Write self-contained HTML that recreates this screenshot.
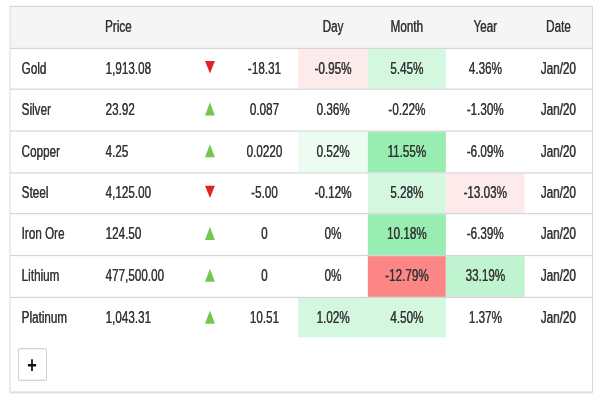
<!DOCTYPE html><html lang="en"><head><meta charset="utf-8"><title>Metals</title><style>
html,body{margin:0;padding:0;background:#fff;}
body{width:600px;height:400px;overflow:hidden;position:relative;}
.stage{position:absolute;left:0;top:0;width:718.56px;height:353.10px;transform:translate(0.0px,0.290px) scale(0.835,1.13200);transform-origin:0 0;font-family:"Liberation Sans",Arial,sans-serif;font-size:14px;line-height:20px;color:#333;-webkit-text-stroke:0.12px #333;text-shadow:0.35px 0 0 rgba(51,51,51,.75);}
svg.bg{position:absolute;left:0;top:0;display:block;}
.tbl{position:absolute;left:12.48px;top:5px;width:696.60px;}
.tr{display:flex;height:37px;}
.c{flex:none;box-sizing:border-box;text-align:center;white-space:nowrap;padding-top:8.10px;position:relative;}
.tr.h .c{padding-top:8.40px;}
.c.n{text-align:left;padding-left:13.39px;}
.c.p{text-align:left;padding-left:1.6px;}
.tr.h .c.p{padding-left:1px;}
.c svg{position:absolute;left:18.00px;top:11px;display:block;}
.btn{position:absolute;left:21px;top:307px;width:36px;height:30px;box-sizing:border-box;border:0;background:transparent;padding:0;margin:0;}
.btn svg{position:absolute;left:0;top:0;overflow:visible;display:block;}
</style></head><body><div class="stage">
<svg class="bg" width="718.56" height="353.10" viewBox="0 0 718.56 353.10" aria-hidden="true">
<rect x="11.98" y="5.35" width="697.60" height="36.65" fill="#f5f5f5"/>
<rect x="357.13" y="43" width="83.41" height="35.00" fill="#fdeaea"/>
<rect x="440.54" y="43" width="93.41" height="35.00" fill="#d4f7e0"/>
<rect x="357.13" y="116" width="83.41" height="36.00" fill="#ecfcf0"/>
<rect x="440.54" y="116" width="93.41" height="36.00" fill="#98edb1"/>
<rect x="440.54" y="153" width="93.41" height="35.00" fill="#d4f7e0"/>
<rect x="533.95" y="153" width="94.37" height="35.00" fill="#fdeaea"/>
<rect x="440.54" y="189" width="93.41" height="36.00" fill="#98edb1"/>
<rect x="440.54" y="226" width="93.41" height="36.00" fill="#fc8686"/>
<rect x="533.95" y="226" width="94.37" height="36.00" fill="#c0f3cf"/>
<rect x="357.13" y="263" width="83.41" height="34.84" fill="#d4f7e0"/>
<rect x="440.54" y="263" width="93.41" height="34.84" fill="#d4f7e0"/>
<rect x="11.98" y="42" width="697.60" height="1" fill="#d4d4d4"/>
<rect x="11.98" y="78" width="697.60" height="1" fill="#d4d4d4"/>
<rect x="11.98" y="115" width="697.60" height="1" fill="#d4d4d4"/>
<rect x="11.98" y="152" width="697.60" height="1" fill="#d4d4d4"/>
<rect x="11.98" y="188" width="697.60" height="1" fill="#d4d4d4"/>
<rect x="11.98" y="225" width="697.60" height="1" fill="#d4d4d4"/>
<rect x="11.98" y="262" width="697.60" height="1" fill="#d4d4d4"/>
<rect x="11.98" y="346.67" width="697.60" height="1" fill="#000" opacity="0.06"/>
<rect x="11.98" y="5.35" width="697.60" height="340.81" fill="none" stroke="#d4d4d4" stroke-width="1"/>
</svg>
<div class="tbl" role="table">
<div class="tr h" role="row"><div class="c" style="width:112.27px"></div><div class="c p" style="width:101.57px">Price</div><div class="c" style="width:49.85px"></div><div class="c" style="width:80.96px"></div><div class="c" style="width:83.41px">Day</div><div class="c" style="width:93.41px">Month</div><div class="c" style="width:94.37px">Year</div><div class="c" style="width:80.76px">Date</div></div>
<div class="tr" role="row" style="height:36px"><div class="c n" style="width:112.27px">Gold</div><div class="c p" style="width:101.57px">1,913.08</div><div class="c" style="width:49.85px"><svg width="15" height="14" viewBox="0 0 15 14"><polygon points="1.56,0.73 13.36,0.73 7.46,11.6" fill="#e02424"/></svg></div><div class="c" style="width:80.96px">-18.31</div><div class="c" style="width:83.41px">-0.95%</div><div class="c" style="width:93.41px">5.45%</div><div class="c" style="width:94.37px">4.36%</div><div class="c" style="width:80.76px">Jan/20</div></div>
<div class="tr" role="row" style="height:37px"><div class="c n" style="width:112.27px">Silver</div><div class="c p" style="width:101.57px">23.92</div><div class="c" style="width:49.85px"><svg width="15" height="14" viewBox="0 0 15 14"><polygon points="7.43,1.13 13.35,12.72 1.5,12.72" fill="#74c64c"/></svg></div><div class="c" style="width:80.96px">0.087</div><div class="c" style="width:83.41px">0.36%</div><div class="c" style="width:93.41px">-0.22%</div><div class="c" style="width:94.37px">-1.30%</div><div class="c" style="width:80.76px">Jan/20</div></div>
<div class="tr" role="row" style="height:37px"><div class="c n" style="width:112.27px">Copper</div><div class="c p" style="width:101.57px">4.25</div><div class="c" style="width:49.85px"><svg width="15" height="14" viewBox="0 0 15 14"><polygon points="7.43,1.13 13.35,12.72 1.5,12.72" fill="#74c64c"/></svg></div><div class="c" style="width:80.96px">0.0220</div><div class="c" style="width:83.41px">0.52%</div><div class="c" style="width:93.41px">11.55%</div><div class="c" style="width:94.37px">-6.09%</div><div class="c" style="width:80.76px">Jan/20</div></div>
<div class="tr" role="row" style="height:36px"><div class="c n" style="width:112.27px">Steel</div><div class="c p" style="width:101.57px">4,125.00</div><div class="c" style="width:49.85px"><svg width="15" height="14" viewBox="0 0 15 14"><polygon points="1.56,0.73 13.36,0.73 7.46,11.6" fill="#e02424"/></svg></div><div class="c" style="width:80.96px">-5.00</div><div class="c" style="width:83.41px">-0.12%</div><div class="c" style="width:93.41px">5.28%</div><div class="c" style="width:94.37px">-13.03%</div><div class="c" style="width:80.76px">Jan/20</div></div>
<div class="tr" role="row" style="height:37px"><div class="c n" style="width:112.27px">Iron Ore</div><div class="c p" style="width:101.57px">124.50</div><div class="c" style="width:49.85px"><svg width="15" height="14" viewBox="0 0 15 14"><polygon points="7.43,1.13 13.35,12.72 1.5,12.72" fill="#74c64c"/></svg></div><div class="c" style="width:80.96px">0</div><div class="c" style="width:83.41px">0%</div><div class="c" style="width:93.41px">10.18%</div><div class="c" style="width:94.37px">-6.39%</div><div class="c" style="width:80.76px">Jan/20</div></div>
<div class="tr" role="row" style="height:37px"><div class="c n" style="width:112.27px">Lithium</div><div class="c p" style="width:101.57px">477,500.00</div><div class="c" style="width:49.85px"><svg width="15" height="14" viewBox="0 0 15 14"><polygon points="7.43,1.13 13.35,12.72 1.5,12.72" fill="#74c64c"/></svg></div><div class="c" style="width:80.96px">0</div><div class="c" style="width:83.41px">0%</div><div class="c" style="width:93.41px">-12.79%</div><div class="c" style="width:94.37px">33.19%</div><div class="c" style="width:80.76px">Jan/20</div></div>
<div class="tr" role="row" style="height:36px"><div class="c n" style="width:112.27px">Platinum</div><div class="c p" style="width:101.57px">1,043.31</div><div class="c" style="width:49.85px"><svg width="15" height="14" viewBox="0 0 15 14"><polygon points="7.43,1.13 13.35,12.72 1.5,12.72" fill="#74c64c"/></svg></div><div class="c" style="width:80.96px">10.51</div><div class="c" style="width:83.41px">1.02%</div><div class="c" style="width:93.41px">4.50%</div><div class="c" style="width:94.37px">1.37%</div><div class="c" style="width:80.76px">Jan/20</div></div>
</div>
<button class="btn" aria-label="expand"><svg width="36" height="30" viewBox="0 0 36 30"><rect x="1.22" y="0.87" width="33.47" height="27.78" rx="1" fill="#fff" stroke="#c6c6c6" stroke-width="1"/><path d="M12.42 15.36h9.80M17.32 10.16v10.40" stroke="#111" stroke-width="2.1" fill="none"/></svg></button>
</div></body></html>
